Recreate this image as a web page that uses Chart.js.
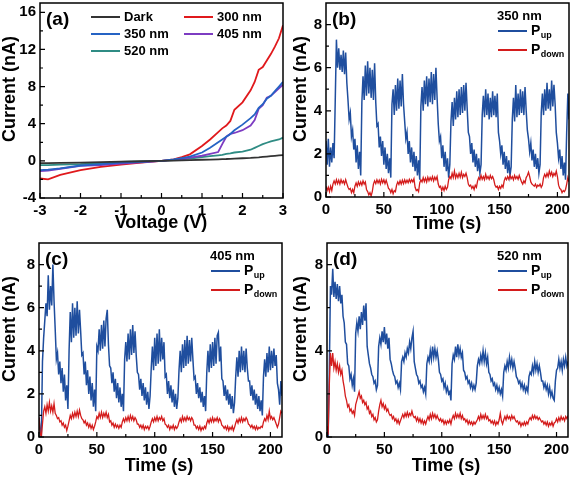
<!DOCTYPE html>
<html>
<head>
<meta charset="utf-8">
<script src="https://cdn.jsdelivr.net/npm/chart.js@4.4.0/dist/chart.umd.min.js"></script>
<style>
body { margin: 0; background: #fff; width: 573px; height: 479px; position: relative; overflow: hidden; }
canvas { position: absolute; }
</style>
</head>
<body>
<canvas id="ca" width="287" height="240" style="left:0;top:0"></canvas>
<canvas id="cb" width="286" height="240" style="left:287px;top:0"></canvas>
<canvas id="cc" width="287" height="239" style="left:0;top:240px"></canvas>
<canvas id="cd" width="286" height="239" style="left:287px;top:240px"></canvas>
<script>
// ---- (a) I-V curves ----
var voltage = [-3, -2.8, -2.5, -2, -1.5, -1, -0.5, 0, 0.3, 0.5, 0.7, 1, 1.2, 1.4, 1.5, 1.6, 1.7, 1.8, 2, 2.2, 2.3, 2.4, 2.5, 2.6, 2.7, 2.8, 2.9, 3]
var ivDark = [-0.25, -0.25, -0.22, -0.18, -0.13, -0.08, -0.04, 0, 0.03, 0.05, 0.08, 0.12, 0.14, 0.17, 0.19, 0.2, 0.22, 0.24, 0.28, 0.32, 0.35, 0.38, 0.42, 0.46, 0.5, 0.54, 0.58, 0.62]
var iv300 = [-1.9, -2.0, -1.5, -1.0, -0.65, -0.4, -0.2, 0, 0.15, 0.4, 0.7, 1.6, 2.3, 3.1, 3.5, 3.8, 4.3, 5.5, 6.3, 7.6, 8.5, 9.8, 10.1, 10.8, 11.5, 12.3, 13.2, 14.6]
var iv350 = [-1.0, -0.95, -0.8, -0.5, -0.35, -0.2, -0.1, 0, 0.15, 0.3, 0.45, 0.9, 1.4, 2.0, 2.3, 2.6, 2.9, 3.3, 3.9, 4.6, 5.0, 5.7, 6.1, 6.7, 7.0, 7.5, 8.0, 8.5]
var iv405 = [-1.1, -1.05, -0.85, -0.55, -0.45, -0.3, -0.15, 0, 0.1, 0.2, 0.35, 0.55, 0.75, 0.95, 1.8, 2.6, 2.9, 3.0, 3.3, 3.8, 4.4, 5.6, 6.0, 6.8, 7.0, 7.4, 7.8, 8.2]
var iv520 = [-0.45, -0.45, -0.4, -0.35, -0.25, -0.12, -0.05, 0, 0.08, 0.15, 0.25, 0.4, 0.5, 0.6, 0.65, 0.75, 0.8, 0.9, 1.0, 1.2, 1.4, 1.6, 1.8, 1.95, 2.1, 2.2, 2.3, 2.5]

// ---- (b)(c)(d) photocurrent vs time, one sample per second, 0..210 s ----
var timeS = Array.from({ length: 211 }, (v, i) => i)

var bUp = [2.6,1.5,2.7,1.4,2.3,1.6,2.5,1.8, 4.5,7.3,6.0,6.9,5.9,6.6,5.8,6.8,5.7,6.7,5.3,
  4.5,3.6,3.9,2.8,3.1,2.2,2.7,1.6,2.4,1.3,2.1,1.0,
  4.4,5.6,4.5,6.1,4.7,6.3,4.8,6.0,4.6,5.9,4.5,6.2,4.4,
  3.3,3.4,2.3,2.8,1.9,2.6,1.5,2.3,1.3,2.0,1.1,1.8,
  0.9,
  4.3,5.0,3.8,5.2,4.0,5.5,4.1,5.4,4.2,5.7,4.3,
  3.5,2.7,3.0,2.0,2.6,1.6,2.3,1.4,2.1,1.2,1.9,1.0,1.7,0.8,
  4.2,5.1,4.0,5.4,4.3,5.6,4.2,5.5,4.4,5.8,4.3,5.7,4.5,6.0,4.6,
  3.4,2.6,2.8,1.8,2.4,1.4,2.1,1.2,1.8,0.9,1.5,
  3.5,4.4,3.3,4.6,3.6,4.9,3.7,5.0,3.8,5.1,3.9,5.2,4.0,5.3,4.1,
  3.0,2.8,2.0,2.5,1.6,2.2,1.4,2.0,1.2,1.8,1.1,1.5,
  3.8,4.7,3.7,5.0,3.8,4.8,3.6,4.6,3.7,4.9,3.8,4.7,3.7,4.8,
  3.0,2.6,2.0,2.4,1.5,2.1,1.3,1.9,1.1,1.7,1.0,1.4,
  3.6,4.6,3.5,5.2,3.7,4.8,3.8,5.0,3.9,4.9,3.8,5.1,4.0,
  3.1,2.7,2.1,2.5,1.7,2.2,1.4,2.0,1.3,1.8,1.1,1.5,
  3.9,4.8,3.8,5.0,4.0,5.3,4.1,5.0,4.0,5.4,4.2,5.2,4.3,
  3.0,2.5,1.8,2.2,1.3,1.9,1.0,1.6,0.8,
  3.0,4.8,3.6]
var bDown = [0.5,0.3,0.45,0.25,0.5,0.3,
  0.6,0.75,0.6,0.8,0.62,0.78,0.6,0.8,0.65,0.75,0.6,0.8,0.62,
  0.45,0.35,0.4,0.2,0.35,0.2,
  0.5,0.65,0.5,0.7,0.55,0.7,0.55,0.75,0.6,0.7,
  0.35,0.25,0.1,0.2,0.05,0.25,
  0.6,0.75,0.62,0.8,0.65,0.78,0.6,0.82,0.66,0.8,0.62,0.78,0.6,
  0.4,0.35,0.2,0.35,0.15,0.3,0.25,
  0.55,0.7,0.58,0.75,0.6,0.78,0.62,0.8,0.65,0.78,0.66,0.82,0.68,0.8,0.7,0.85,
  0.45,0.3,0.35,0.25,
  0.65,0.8,0.7,0.9,0.72,0.88,0.7,0.92,0.75,0.9,0.78,0.95,0.75,0.92,0.8,0.95,
  0.6,0.45,0.5,0.3,0.45,0.3,0.5,0.35,0.45,
  0.8,0.95,0.85,1.1,0.9,1.2,0.88,1.05,0.9,1.1,0.92,1.15,0.9,1.05,0.95,1.1,0.9,
  0.6,0.5,0.55,0.4,0.5,0.35,0.55,0.45,
  0.75,0.9,0.8,1.0,0.82,0.95,0.8,1.05,0.85,0.95,0.82,1.0,0.85,0.95,0.8,
  0.55,0.45,0.5,0.35,0.5,0.4,0.55,0.45,
  0.75,0.9,0.8,0.95,0.82,1.0,0.85,0.95,0.8,1.0,0.85,0.95,0.82,1.0,0.85,
  0.7,0.6,0.75,0.65,0.9,1.0,1.15,0.95,
  0.7,0.6,0.55,0.5,0.6,0.45,0.55,0.5,0.6,0.45,0.55,
  0.9,1.05,0.92,1.1,0.95,1.2,1.0,1.15,0.95,1.1,1.0,1.2,0.95,
  0.55,0.4,0.35,0.2,0.3,0.25,0.35,
  0.6,0.9,0.7]

var cUp = [0.9,0.3,0.0,3.5,4.6,5.4,6.2,5.6,7.5,5.9,7.0,6.1,8.0,6.3,
  5.0,3.6,3.9,2.9,3.5,2.5,3.2,2.1,2.9,1.7,2.4,1.3,
  4.0,5.8,4.4,6.2,4.6,6.0,4.7,6.3,4.8,5.9,4.9,
  3.8,3.9,2.9,3.5,2.4,3.1,2.0,2.8,1.7,2.5,1.4,2.2,
  1.2,4.2,4.0,5.0,4.0,5.2,4.1,5.4,4.2,5.5,5.9,4.3,
  3.3,3.2,2.5,3.0,2.1,2.7,1.8,2.5,1.6,2.3,1.4,2.0,1.2,
  3.6,4.4,3.5,4.8,3.6,5.0,3.8,5.2,3.9,4.9,3.8,
  3.0,2.9,2.2,2.7,1.9,2.5,1.7,2.3,1.5,2.1,1.3,1.9,
  3.2,4.2,3.1,4.6,3.3,4.8,3.4,5.0,3.5,4.6,3.6,4.4,
  2.8,2.9,2.0,2.6,1.8,2.4,1.6,2.2,1.4,2.0,1.3,1.8,
  3.1,4.0,3.0,4.3,3.2,4.5,3.3,4.7,3.4,4.5,3.5,4.6,3.6,
  2.7,2.8,2.0,2.5,1.8,2.3,1.6,2.1,1.4,1.9,1.2,
  3.0,4.0,3.0,4.3,3.2,4.4,3.3,4.6,3.4,4.7,4.85,3.5,4.2,
  2.7,2.6,1.9,2.4,1.7,2.2,1.5,2.0,1.3,1.9,1.1,1.6,
  2.8,3.7,2.8,4.0,3.0,4.2,3.1,4.0,3.0,4.1,3.2,
  2.6,2.6,1.9,2.4,1.7,2.2,1.5,2.0,1.3,1.9,1.2,1.7,1.0,
  2.8,3.6,2.8,3.9,3.0,4.2,3.1,4.0,3.2,4.1,3.3,3.8,
  2.5,2.2,1.5,2.6,1.9]
var cDown = [0.9,0.2,0.0,0.6,1.2,1.4,1.1,1.5,1.2,1.6,1.2,1.45,1.15,1.55,
  1.1,1.0,0.85,0.9,0.7,0.75,0.55,0.65,0.45,0.55,0.3,0.5,
  0.75,1.0,0.85,1.1,0.9,1.15,0.95,1.2,0.95,1.25,1.0,
  0.85,0.8,0.65,0.75,0.55,0.65,0.45,0.6,0.4,0.55,0.35,0.5,
  0.7,0.95,0.85,1.1,0.9,1.15,0.9,1.1,0.95,1.15,0.9,1.05,
  0.7,0.75,0.55,0.65,0.45,0.6,0.45,0.55,0.4,0.55,0.45,
  0.7,0.85,0.7,0.9,0.75,0.95,0.75,1.0,0.8,0.95,0.75,0.9,0.8,
  0.6,0.6,0.45,0.55,0.4,0.55,0.35,0.5,0.4,0.5,0.35,0.5,
  0.7,0.85,0.7,0.9,0.75,0.95,0.75,0.9,0.8,0.95,0.75,0.85,
  0.6,0.55,0.45,0.55,0.35,0.5,0.4,0.55,0.35,0.5,0.4,0.5,
  0.7,0.85,0.7,0.95,0.75,0.9,0.75,0.95,0.8,0.9,0.75,0.9,0.8,
  0.55,0.55,0.4,0.5,0.35,0.5,0.3,0.45,0.35,0.5,0.4,
  0.65,0.8,0.65,0.85,0.7,0.9,0.7,0.85,0.75,0.9,0.7,0.85,0.75,
  0.55,0.5,0.4,0.5,0.35,0.5,0.3,0.45,0.35,0.5,0.3,0.45,
  0.65,0.8,0.65,0.85,0.7,0.9,0.7,0.85,0.75,0.9,0.8,
  0.6,0.55,0.45,0.55,0.4,0.5,0.35,0.5,0.35,0.45,0.4,0.5,0.45,
  0.7,0.85,0.75,1.0,0.8,1.2,0.85,0.95,0.8,0.9,0.75,0.6,
  0.45,0.6,0.9,1.2,1.1]

var dUp = [0.1,0.0,3.0,7.0,6.6,7.8,6.5,7.2,6.4,7.1,6.3,7.0,6.2,6.6,
  5.6,5.3,4.4,4.3,3.4,3.3,2.7,2.9,2.4,2.7,2.1,
  4.8,5.3,4.9,5.6,5.0,5.8,5.2,6.1,5.4,6.2,
  4.2,3.8,3.4,3.2,2.9,2.8,2.5,2.6,2.2,2.4,
  4.2,4.6,4.3,4.9,4.4,5.1,4.3,4.8,4.1,4.6,
  3.6,3.4,3.1,2.9,2.8,2.5,2.6,2.3,2.5,2.2,
  3.5,3.7,3.5,3.9,3.7,4.1,3.9,4.4,4.1,4.6,4.9,
  3.5,3.2,2.9,2.8,2.5,2.6,2.3,2.4,2.1,2.3,2.0,
  3.4,3.7,3.5,4.0,3.6,4.2,3.7,4.1,3.7,4.0,3.6,
  3.0,2.9,2.6,2.7,2.3,2.5,2.1,2.3,2.0,2.1,1.7,
  3.4,3.8,3.6,4.2,3.7,4.3,3.8,4.1,3.7,3.9,
  3.1,3.0,2.7,2.8,2.5,2.6,2.3,2.5,2.2,2.4,2.2,2.5,
  3.3,3.6,3.4,3.8,3.5,4.0,3.5,3.9,3.4,3.7,
  3.0,2.9,2.6,2.7,2.4,2.5,2.2,2.4,2.1,2.3,2.0,2.2,1.9,
  3.0,3.3,3.1,3.5,3.2,3.7,3.3,3.6,3.2,3.5,3.2,
  2.8,2.7,2.5,2.6,2.3,2.5,2.2,2.4,2.1,2.3,2.1,
  2.8,3.0,2.9,3.3,3.0,3.5,3.1,3.4,3.0,3.3,3.0,
  2.6,2.6,2.3,2.5,2.2,2.4,2.0,2.3,1.9,2.1,1.8,1.7,
  2.6,3.1,3.2,3.6,3.2,3.5,3.1,3.6,3.3,3.7,3.3,3.5]
var dDown = [0.5,0.1,2.4,3.9,3.3,3.9,3.2,3.5,3.1,3.4,3.0,3.3,2.9,3.1,
  2.6,2.3,1.9,1.7,1.4,1.5,1.2,1.3,1.1,1.2,1.0,
  1.5,1.7,1.9,2.1,1.8,1.9,1.6,1.7,1.5,1.6,
  1.3,1.4,1.1,1.2,0.95,1.05,0.8,0.9,0.7,0.8,
  1.2,1.5,1.7,1.4,1.55,1.3,1.45,1.2,1.3,1.1,
  1.0,1.05,0.85,0.95,0.75,0.85,0.65,0.8,0.6,0.75,
  0.9,1.05,0.9,1.1,0.95,1.15,0.95,1.1,1.0,1.2,1.0,
  0.9,0.95,0.75,0.9,0.7,0.85,0.65,0.8,0.6,0.75,0.6,
  0.8,0.95,0.8,1.05,0.85,1.1,0.9,1.05,0.85,1.0,0.85,
  0.75,0.85,0.7,0.8,0.6,0.75,0.6,0.75,0.65,0.8,0.6,
  0.85,1.0,0.85,1.1,0.9,1.05,0.9,1.1,0.85,1.0,
  0.8,0.85,0.7,0.8,0.6,0.75,0.6,0.7,0.55,0.7,0.6,0.7,
  0.8,0.95,0.8,1.05,0.85,1.0,0.85,1.05,0.85,0.95,
  0.75,0.8,0.65,0.75,0.6,0.75,0.55,0.7,0.6,0.8,1.1,0.75,0.6,
  0.8,0.95,0.8,1.0,0.85,0.95,0.8,1.0,0.85,0.95,0.8,
  0.7,0.75,0.6,0.7,0.5,0.65,0.55,0.7,0.55,0.7,0.6,
  0.8,0.9,0.8,1.0,0.85,1.0,0.85,0.95,0.8,0.9,0.8,
  0.7,0.75,0.6,0.7,0.55,0.7,0.5,0.65,0.55,0.7,0.5,0.65,
  0.7,0.85,0.7,0.9,0.75,0.95,0.8,0.9,0.75,0.95,0.85,1.0]

// tick positions
var ivXTicks = [-3, -2, -1, 0, 1, 2, 3]
var ivXMinor = [-2.5, -1.5, -0.5, 0.5, 1.5, 2.5]
var ivYTicks = [-4, 0, 4, 8, 12, 16]
var ivYMinor = [-2, 2, 6, 10, 14]
var tXTicks = [0, 50, 100, 150, 200]
var tXMinor = [25, 75, 125, 175]
var tYTicks = [0, 2, 4, 6, 8]
var tYMinor = [1, 3, 5, 7]
var dYTicks = [0, 4, 8]
var dYMinor = [2, 6]

var FONT = '"Liberation Sans", Arial, sans-serif'
var BLUE = '#1f4e9e', RED = '#d41c1c'

function pairs(xs, ys) {
    return ys.map((y, i) => ({ x: xs[i], y: y }))
}

var deco = {//moldura, ticks para dentro, títulos e legenda
    id: 'deco',
    afterDraw(chart, args, o) {
        let ctx = chart.ctx, a = chart.chartArea
        let sx = chart.scales.x, sy = chart.scales.y
        ctx.save()
        ctx.strokeStyle = '#000'
        ctx.lineWidth = 1.2
        ctx.beginPath()
        for (let v of o.xMajor) { let p = sx.getPixelForValue(v); ctx.moveTo(p, a.bottom); ctx.lineTo(p, a.bottom - 5) }
        for (let v of o.xMinor) { let p = sx.getPixelForValue(v); ctx.moveTo(p, a.bottom); ctx.lineTo(p, a.bottom - 3) }
        for (let v of o.yMajor) { let p = sy.getPixelForValue(v); ctx.moveTo(a.left, p); ctx.lineTo(a.left + 5, p) }
        for (let v of o.yMinor) { let p = sy.getPixelForValue(v); ctx.moveTo(a.left, p); ctx.lineTo(a.left + 3, p) }
        ctx.stroke()
        ctx.lineWidth = 1.5
        ctx.strokeRect(a.left, a.top, a.right - a.left, a.bottom - a.top)

        ctx.fillStyle = '#000'
        ctx.textBaseline = 'middle'
        ctx.textAlign = 'left'
        ctx.font = 'bold 19px ' + FONT
        ctx.fillText(o.label, a.left + 6, 20)
        ctx.font = 'bold 18px ' + FONT
        ctx.textAlign = 'center'
        ctx.fillText(o.xTitle, o.xTitlePos[0], o.xTitlePos[1])
        ctx.save()
        ctx.translate(o.yTitlePos[0], o.yTitlePos[1])
        ctx.rotate(-Math.PI / 2)
        ctx.fillText(o.yTitle, 0, 0)
        ctx.restore()

        ctx.textAlign = 'left'
        if (o.header) {
            ctx.font = 'bold 13px ' + FONT
            ctx.fillText(o.header[0], o.header[1], o.header[2])
        }
        for (let it of o.legend) {
            let ds = chart.data.datasets[it.ds]
            ctx.strokeStyle = ds.borderColor
            ctx.lineWidth = 2
            ctx.beginPath()
            ctx.moveTo(it.x, it.y)
            ctx.lineTo(it.x + 29, it.y)
            ctx.stroke()
            if (it.sub) {
                ctx.font = 'bold 14px ' + FONT
                ctx.fillText(it.text, it.x + 33, it.y)
                let w = ctx.measureText(it.text).width
                ctx.font = 'bold 9px ' + FONT
                ctx.fillText(it.sub, it.x + 33 + w + 0.5, it.y + 5)
            } else {
                ctx.font = 'bold 13px ' + FONT
                ctx.fillText(it.text, it.x + 33, it.y)
            }
        }
        ctx.restore()
    }
}

function noPad(s) {
    s.paddingTop = 0
    s.paddingBottom = 0
    s.paddingLeft = 0
    s.paddingRight = 0
}

function axes(xr, yr, xt, yt, box) {
    let tickFont = { family: FONT, size: 15, weight: 'bold' }
    return {
        x: {
            type: 'linear', min: xr[0], max: xr[1],
            grid: { display: false, drawTicks: false }, border: { display: false },
            ticks: { color: '#000', font: tickFont, padding: 4, maxRotation: 0 },
            afterBuildTicks: s => { s.ticks = xt.map(v => ({ value: v })) },
            afterFit: s => { s.height = box.h - box.bottom; noPad(s) }
        },
        y: {
            type: 'linear', min: yr[0], max: yr[1],
            grid: { display: false, drawTicks: false }, border: { display: false },
            ticks: { color: '#000', font: tickFont, padding: 4 },
            afterBuildTicks: s => { s.ticks = yt.map(v => ({ value: v })) },
            afterFit: s => { s.width = box.left; noPad(s) }
        }
    }
}

function ivSet(label, ys, color) {
    return { label: label, data: pairs(voltage, ys), borderColor: color, borderWidth: 1.8, pointRadius: 0, tension: 0 }
}
function tSet(label, ys, color, order, width) {
    return { label: label, data: pairs(timeS, ys), borderColor: color, borderWidth: width, pointRadius: 0, tension: 0, order: order }
}

function makeChart(id, box, datasets, scales, decoOpts) {
    return new Chart(document.getElementById(id), {
        type: 'line',
        data: { datasets: datasets },
        options: {
            responsive: false, animation: false, devicePixelRatio: 1,
            layout: { autoPadding: false, padding: { top: box.top, right: box.w - box.right, left: 0, bottom: 0 } },
            scales: scales,
            plugins: { legend: { display: false }, tooltip: { enabled: false }, deco: decoOpts }
        },
        plugins: [deco]
    })
}

// (a)
var boxA = { w: 287, h: 240, left: 40, right: 283, top: 3, bottom: 198 }
makeChart('ca', boxA, [
    ivSet('Dark', ivDark, '#333333'),
    ivSet('350 nm', iv350, '#2563c4'),
    ivSet('405 nm', iv405, '#7d3cc2'),
    ivSet('520 nm', iv520, '#2f8c84'),
    ivSet('300 nm', iv300, '#e0191c')
], axes([-3, 3], [-4, 17], ivXTicks, ivYTicks, boxA), {
    label: '(a)', xTitle: 'Voltage (V)', yTitle: 'Current (nA)',
    xTitlePos: [161, 223], yTitlePos: [10, 89],
    xMajor: ivXTicks, xMinor: ivXMinor, yMajor: ivYTicks, yMinor: ivYMinor,
    legend: [
        { ds: 0, text: 'Dark', x: 91, y: 17 },
        { ds: 4, text: '300 nm', x: 184, y: 17 },
        { ds: 1, text: '350 nm', x: 91, y: 34 },
        { ds: 2, text: '405 nm', x: 184, y: 34 },
        { ds: 3, text: '520 nm', x: 91, y: 51 }
    ]
})

function timeDeco(label, header, yMajor, yMinor, xMid, xY, yX) {
    return {
        label: label, xTitle: 'Time (s)', yTitle: 'Current (nA)',
        xTitlePos: [xMid, xY], yTitlePos: [yX, 89],
        xMajor: tXTicks, xMinor: tXMinor, yMajor: yMajor, yMinor: yMinor,
        header: [header, 210, 16],
        legend: [
            { ds: 0, text: 'P', sub: 'up', x: 211, y: 31 },
            { ds: 1, text: 'P', sub: 'down', x: 211, y: 50 }
        ]
    }
}

// (b)
var boxB = { w: 286, h: 240, left: 39, right: 282, top: 3, bottom: 197 }
makeChart('cb', boxB, [tSet('Pup', bUp, BLUE, 2, 1.5), tSet('Pdown', bDown, RED, 1, 1.3)],
    axes([0, 210], [0, 9], tXTicks, tYTicks, boxB),
    timeDeco('(b)', '350 nm', tYTicks, tYMinor, 160, 224, 14))

// (c)
var boxC = { w: 287, h: 239, left: 39, right: 282, top: 3, bottom: 197 }
makeChart('cc', boxC, [tSet('Pup', cUp, BLUE, 2, 1.5), tSet('Pdown', cDown, RED, 1, 1.3)],
    axes([0, 210], [0, 9], tXTicks, tYTicks, boxC),
    timeDeco('(c)', '405 nm', tYTicks, tYMinor, 159, 226, 10))

// (d)
var boxD = { w: 286, h: 239, left: 40, right: 281, top: 3, bottom: 197 }
makeChart('cd', boxD, [tSet('Pup', dUp, BLUE, 2, 1.5), tSet('Pdown', dDown, RED, 1, 1.3)],
    axes([0, 210], [0, 9], tXTicks, dYTicks, boxD),
    timeDeco('(d)', '520 nm', dYTicks, dYMinor, 159, 226, 14))
</script>
</body>
</html>
